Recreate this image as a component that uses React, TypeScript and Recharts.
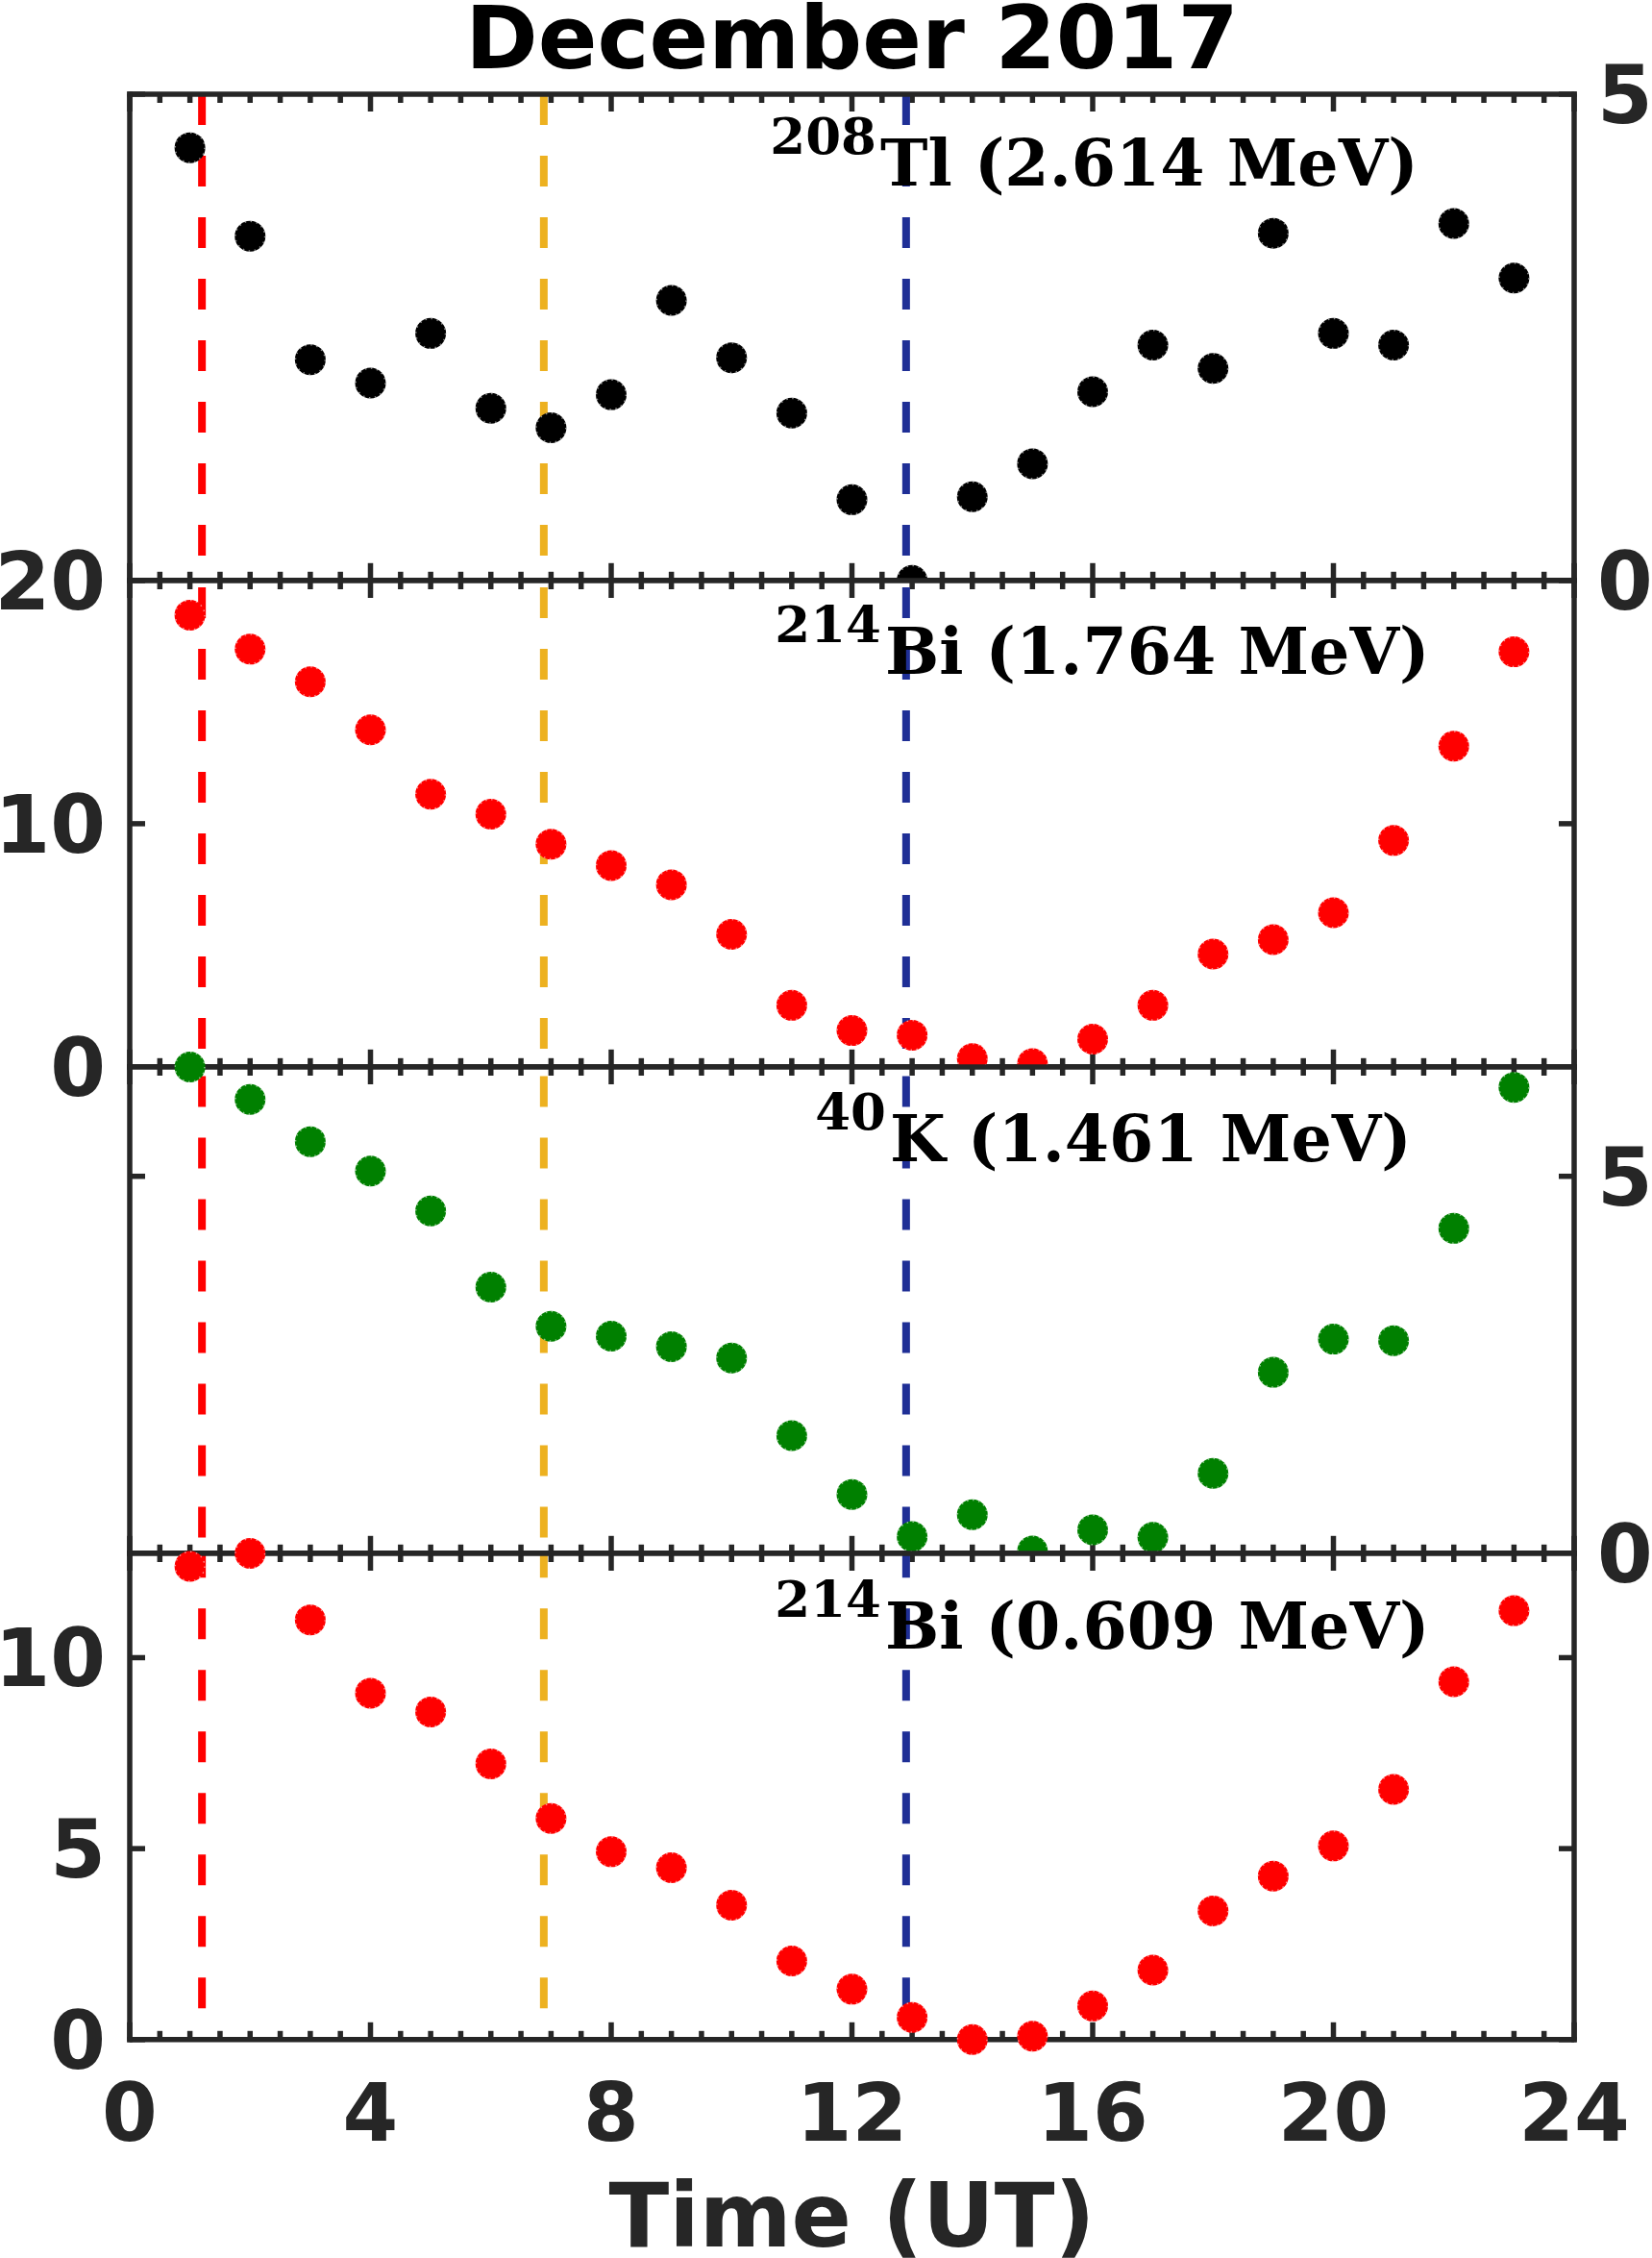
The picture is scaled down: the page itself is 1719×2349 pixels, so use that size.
import React from 'react'
import { ScatterChart, Scatter, XAxis, YAxis, ReferenceLine } from 'recharts'

// Hourly values, December 2017
const HOURS = [1, 2, 3, 4, 5, 6, 7, 8, 9, 10, 11, 12, 13, 14, 15, 16, 17, 18, 19, 20, 21, 22, 23]
const TL_2614 = [4.45, 3.54, 2.27, 2.03, 2.54, 1.77, 1.57, 1.91, 2.88, 2.29, 1.72, 0.83, 0, 0.86, 1.2, 1.94, 2.42, 2.18, 3.57, 2.54, 2.42, 3.67, 3.11]
const BI_1764 = [18.58, 17.18, 15.84, 13.86, 11.21, 10.39, 9.16, 8.28, 7.49, 5.45, 2.53, 1.49, 1.3, 0.34, 0.13, 1.14, 2.53, 4.64, 5.23, 6.34, 9.31, 13.19, 17.07]
const K_1461 = [6.45, 6.02, 5.46, 5.07, 4.54, 3.53, 3.01, 2.88, 2.74, 2.59, 1.56, 0.78, 0.22, 0.51, 0.03, 0.31, 0.21, 1.06, 2.4, 2.84, 2.82, 4.31, 6.18]
const BI_0609 = [12.39, 12.73, 10.99, 9.07, 8.58, 7.22, 5.79, 4.92, 4.5, 3.52, 2.06, 1.32, 0.58, 0, 0.09, 0.88, 1.82, 3.37, 4.28, 5.07, 6.55, 9.37, 11.23]

const X_TICKS = [0, 4, 8, 12, 16, 20, 24]
const X_MINOR = [0.5, 1, 1.5, 2, 2.5, 3, 3.5, 4.5, 5, 5.5, 6, 6.5, 7, 7.5, 8.5, 9, 9.5, 10, 10.5, 11, 11.5, 12.5, 13, 13.5, 14, 14.5, 15, 15.5, 16.5, 17, 17.5, 18, 18.5, 19, 19.5, 20.5, 21, 21.5, 22, 22.5, 23, 23.5]

const Y_MAX = [5, 20, 6.45, 12.73]
const Y_TICKS = [[0, 5], [0, 10, 20], [0, 5], [0, 5, 10]]

const ISOTOPES = ['208', '214', '40', '214']
const NUCLIDES = ['Tl (2.614 MeV)', 'Bi (1.764 MeV)', 'K (1.461 MeV)', 'Bi (0.609 MeV)']

// vertical markers (UT hours)
const EVENT_HOURS = [1.2, 6.88, 12.9]
const EVENT_COLORS = ['#ff0000', '#edb120', '#1f2f96']

const SERIES = [TL_2614, BI_1764, K_1461, BI_0609]
const DOT_COLORS = ['#000000', '#ff0000', '#008000', '#ff0000']

// layout
const W = 1719
const H = 2349
const PLOT_L = 135
const PLOT_R = 1638
const TOP0 = 98.3
const PH = 505.8
const PAD = 70
const AXIS = '#262626'
const LW = 5.5
const DASH_OFFSET = [0, 57, 54.6, 6.7]
const LABEL_LEFT = [false, true, false, true]
const BASE_DY = [95, 97, 98, 99]
const MAIN_X = [916, 921, 926, 921]

const FONT = { fontSize: 83, fontWeight: 700, fill: AXIS, fontFamily: 'DejaVu Sans' }

const Dot = (props: any) => {
  const { cx, cy, fill } = props
  if (cx == null || cy == null) return null
  return (
    <g>
      <circle cx={cx} cy={cy} r={16} fill={fill} />
      <circle cx={cx} cy={cy} r={15.3} fill="none" stroke="#fff" strokeOpacity={0.55} strokeWidth={1.4} strokeDasharray="1.5 4.5" />
    </g>
  )
}

const leftTick = (p: any) => (
  <text x={110} y={p.y + 30} textAnchor="end" {...FONT}>{p.payload.value}</text>
)
const rightTick = (p: any) => (
  <text x={1662} y={p.y + 30} textAnchor="start" {...FONT}>{p.payload.value}</text>
)
const bottomTick = (p: any) => (
  <text x={p.x} y={PAD + PH + 105.5} textAnchor="middle" {...FONT}>{p.payload.value}</text>
)

// inward tick marks on both ends of a reference line
const xTickShape = (len: number) => (p: any) => {
  const top = Math.min(p.y1, p.y2)
  const bot = Math.max(p.y1, p.y2)
  return (
    <g stroke={AXIS} strokeWidth={LW}>
      <line x1={p.x1} x2={p.x1} y1={top} y2={top + len} />
      <line x1={p.x1} x2={p.x1} y1={bot} y2={bot - len} />
    </g>
  )
}
const yTickShape = (p: any) => {
  const l = Math.min(p.x1, p.x2)
  const r = Math.max(p.x1, p.x2)
  return (
    <g stroke={AXIS} strokeWidth={LW}>
      <line x1={l} x2={l + 16} y1={p.y1} y2={p.y1} />
      <line x1={r} x2={r - 16} y1={p.y1} y2={p.y1} />
    </g>
  )
}

function Panel({ index }: { index: number }) {
  const top = TOP0 + index * PH
  const last = index === 3
  const padB = last ? 130 : PAD
  const data = HOURS.map((h, i) => ({ x: h, y: SERIES[index][i] }))
  const axisLine = { stroke: AXIS, strokeWidth: LW, strokeLinecap: 'square' as const }
  const leftLabels = LABEL_LEFT[index]
  const yDomain: [number, number] = [0, Y_MAX[index]]

  return (
    <>
      {/* axes background: hides markers of the panel above that spill into this one */}
      {index > 0 && (
        <div style={{ position: 'absolute', left: PLOT_L, top, width: PLOT_R - PLOT_L, height: PH, background: '#fff' }} />
      )}
      <div style={{ position: 'absolute', left: 0, top: top - PAD }}>
        <ScatterChart
          width={W}
          height={PAD + PH + padB}
          margin={{ top: PAD - 1, right: 0, bottom: padB - 1, left: 0 }}
        >
          <XAxis xAxisId="t" type="number" domain={[0, 24]} allowDataOverflow ticks={X_TICKS}
            orientation="top" height={1} tick={false} tickLine={false} axisLine={axisLine} />
          <XAxis xAxisId="b" type="number" dataKey="x" domain={[0, 24]} ticks={X_TICKS} interval={0}
            orientation="bottom" height={1} tickLine={false}
            tick={last ? bottomTick : false} axisLine={axisLine} />

          <YAxis yAxisId="l" type="number" dataKey="y" domain={yDomain} ticks={Y_TICKS[index]} interval={0}
            orientation="left" width={PLOT_L} tickLine={false}
            tick={leftLabels ? leftTick : false} axisLine={axisLine} />
          <YAxis yAxisId="r" type="number" domain={yDomain} allowDataOverflow ticks={Y_TICKS[index]} interval={0}
            orientation="right" width={W - PLOT_R} tickLine={false}
            tick={leftLabels ? false : rightTick} axisLine={axisLine} />

          {X_MINOR.map((t) => (
            <ReferenceLine key={`m${t}`} x={t} xAxisId="b" yAxisId="l" shape={xTickShape(9)} />
          ))}
          {X_TICKS.map((t) => (
            <ReferenceLine key={`M${t}`} x={t} xAxisId="b" yAxisId="l" shape={xTickShape(18)} />
          ))}
          {Y_TICKS[index].map((v) => (
            <ReferenceLine key={`y${v}`} y={v} xAxisId="b" yAxisId="l" shape={yTickShape} />
          ))}

          <Scatter data={data} xAxisId="b" yAxisId="l" fill={DOT_COLORS[index]} shape={Dot} isAnimationActive={false} />

          {EVENT_HOURS.map((h, k) => (
            <ReferenceLine
              key={k}
              x={h}
              xAxisId="b"
              yAxisId="l"
              shape={(p: any) => (
                <line
                  x1={p.x1}
                  x2={p.x2}
                  y1={Math.min(p.y1, p.y2)}
                  y2={Math.max(p.y1, p.y2)}
                  stroke={EVENT_COLORS[k]}
                  strokeWidth={8}
                  strokeDasharray="32 32"
                  strokeDashoffset={DASH_OFFSET[index]}
                />
              )}
            />
          ))}
        </ScatterChart>
      </div>
    </>
  )
}

export default function App() {
  return (
    <div style={{ position: 'absolute', left: 0, top: 0, width: W, height: H, background: '#fff', fontFamily: 'DejaVu Sans' }}>
      {[0, 1, 2, 3].map((i) => <Panel key={i} index={i} />)}
      <svg width={W} height={H} style={{ position: 'absolute', left: 0, top: 0, pointerEvents: 'none' }}>
        <text x={(PLOT_L + PLOT_R) / 2} y={71} textAnchor="middle" fontFamily="DejaVu Sans" fontWeight="bold" fontSize={91} fill="#000">
          December 2017
        </text>
        <text x={(PLOT_L + PLOT_R) / 2} y={2337} textAnchor="middle" fontFamily="DejaVu Sans" fontWeight="bold" fontSize={92} fill={AXIS}>
          Time (UT)
        </text>
        {ISOTOPES.map((iso, i) => {
          const base = TOP0 + i * PH + BASE_DY[i]
          return (
            <g key={i} fontFamily="DejaVu Serif" fontWeight="bold" fill="#000">
              <text x={MAIN_X[i] - 4} y={base - 33} fontSize={53} textAnchor="end">{iso}</text>
              <text x={MAIN_X[i]} y={base} fontSize={66.5}>{NUCLIDES[i]}</text>
            </g>
          )
        })}
      </svg>
    </div>
  )
}
